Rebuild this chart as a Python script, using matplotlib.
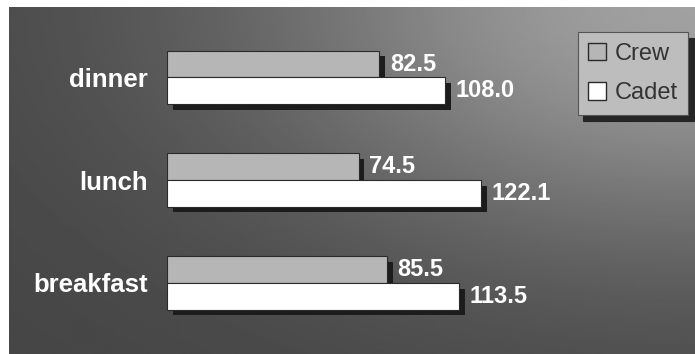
import numpy as np
import matplotlib
matplotlib.use("Agg")
import matplotlib.pyplot as plt
import matplotlib.patheffects as pe
from matplotlib.patches import Patch

categories = ["breakfast", "lunch", "dinner"]
crew = [85.5, 74.5, 82.5]
cadet = [113.5, 122.1, 108.0]
series_labels = ["Crew", "Cadet"]

W, H = 695, 354
fig = plt.figure(figsize=(W / 100, H / 100), dpi=100)
fig.patch.set_facecolor("white")

# shaded backdrop, lightest toward the upper right corner
bg = fig.add_axes([9 / W, 0, 1 - 9 / W, (H - 7) / H])
gx, gy = np.meshgrid(np.linspace(9, W, 300), np.linspace(7, H, 160))
d2 = ((gx - W) / 450) ** 2 + ((gy - 0) / 250) ** 2
shade = 0.27 + 0.36 * np.exp(-d2)
bg.imshow(shade, cmap="gray", vmin=0, vmax=1, aspect="auto",
          extent=[0, 1, 0, 1], interpolation="bilinear")
bg.set_axis_off()

ax = fig.add_axes([167 / W, (H - 344.6) / H, 514.8 / W, 328.8 / H])
ax.set_facecolor("none")
ax.patch.set_alpha(0)

y = np.arange(len(categories))
h = 0.26
shadow = [pe.SimplePatchShadow(offset=(4, -4), shadow_rgbFace="#1c1c1c", alpha=1.0),
          pe.Normal()]

crew_bars = ax.barh(y + h / 2, crew, height=h, color="#b6b6b6",
                    edgecolor="#2a2a2a", linewidth=0.8, zorder=2)
cadet_bars = ax.barh(y - h / 2, cadet, height=h, color="white",
                     edgecolor="#2a2a2a", linewidth=0.8, zorder=3)
for b in list(crew_bars) + list(cadet_bars):
    b.set_path_effects(shadow)

lab_font = dict(family="Liberation Sans", weight="bold", size=17, color="white")
for bars, vals in ((crew_bars, crew), (cadet_bars, cadet)):
    for b, v in zip(bars, vals):
        ax.annotate(f"{v:.1f}", (v, b.get_y() + b.get_height() / 2),
                    xytext=(7.5, 0), textcoords="offset points",
                    ha="left", va="center", zorder=5, **lab_font)

ax.set_xlim(0, 200)
ax.set_ylim(-0.6, 2.6)
ax.set_xticks([])
ax.set_yticks(y)
ax.set_yticklabels(categories, family="Liberation Sans", weight="bold",
                   size=18.5, color="white")
ax.tick_params(axis="y", length=0, pad=13.5)
for s in ax.spines.values():
    s.set_visible(False)

handles = [Patch(facecolor="#b6b6b6", edgecolor="#2a2a2a", linewidth=1.0),
           Patch(facecolor="white", edgecolor="#2a2a2a", linewidth=1.0)]
leg = fig.legend(handles, series_labels, loc="upper right",
                 bbox_to_anchor=(688 / W, 1 - 32 / H),
                 prop=dict(family="Liberation Sans", size=17),
                 frameon=True, fancybox=False,
                 shadow=dict(ox=4, oy=-4, color="#262626", alpha=1.0),
                 handlelength=0.75, handleheight=0.75, handletextpad=0.35,
                 labelspacing=0.75, borderpad=0.45, borderaxespad=0)
leg.get_frame().set_facecolor("#bdbdbd")
leg.get_frame().set_edgecolor("#555555")
leg.get_frame().set_linewidth(0.8)
for t in leg.get_texts():
    t.set_color("#333333")

fig.savefig("out.png", dpi=100)
